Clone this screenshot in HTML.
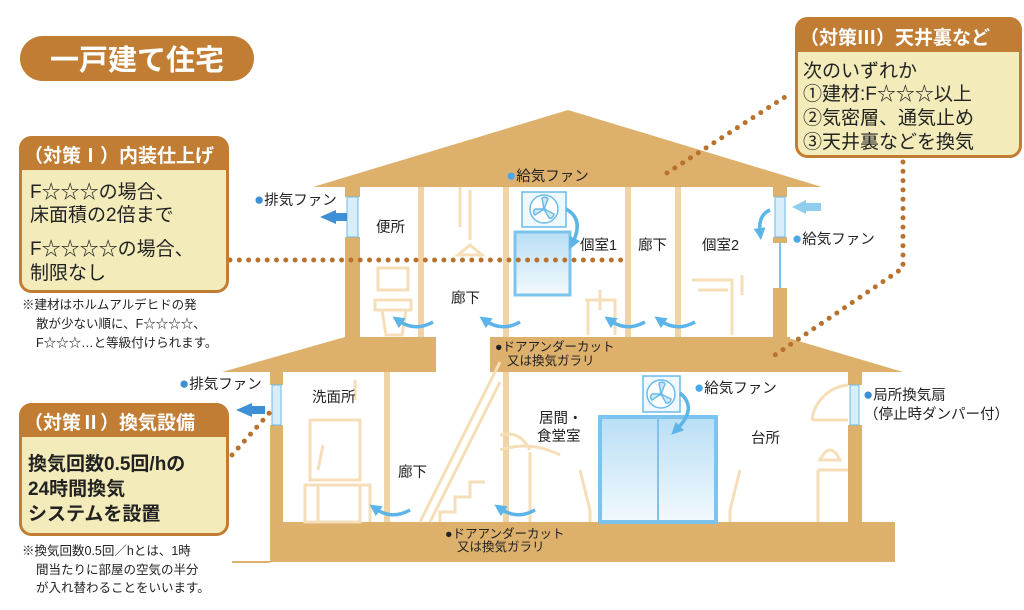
<!DOCTYPE html>
<html><head><meta charset="utf-8"><style>
body{margin:0;background:#fff}
svg{display:block}
text{font-family:"Liberation Sans","Noto Sans CJK JP",sans-serif;fill:#222}
.b{font-weight:bold}
</style></head><body>
<svg width="1024" height="610" viewBox="0 0 1024 610" xmlns="http://www.w3.org/2000/svg">
<defs>
<linearGradient id="gw" x1="0" y1="0" x2="0" y2="1"><stop offset="0" stop-color="#b9def5"/><stop offset="1" stop-color="#f2f9fd"/></linearGradient>
<marker id="ah" markerUnits="userSpaceOnUse" markerWidth="12" markerHeight="12" refX="4" refY="6" orient="auto"><path d="M0,0 L12,6 L0,12 Z" fill="#5cb4e8"/></marker>
</defs>
<g fill="#ddb06c">
<polygon points="568,110 313,187 822,187"/>
<rect x="345" y="187" width="15" height="10"/><rect x="345" y="237" width="15" height="100"/>
<rect x="773" y="187" width="14" height="10"/><rect x="773" y="237" width="14" height="6"/><rect x="773" y="288" width="14" height="50"/>
<rect x="345" y="337" width="91" height="35"/>
<rect x="490" y="337" width="300" height="35"/>
<polygon points="222,372 345,337 345,372"/>
<polygon points="785,337 903,372 785,372"/>
<rect x="270" y="372" width="13" height="13"/><rect x="270" y="425" width="13" height="137"/>
<rect x="848" y="372" width="14" height="13"/><rect x="848" y="425" width="14" height="137"/>
<rect x="270" y="522" width="625" height="40"/>
</g>
<line x1="232" y1="562" x2="270" y2="562" stroke="#ddb06c" stroke-width="2"/>
<g fill="#f0d4a6">
<rect x="418" y="187" width="6" height="150"/><rect x="503" y="187" width="6" height="150"/>
<rect x="625" y="187" width="6" height="150"/><rect x="675" y="187" width="6" height="150"/>
<rect x="384" y="372" width="6" height="150"/><rect x="503" y="372" width="6" height="150"/>
</g>
<g fill="none" stroke="#f6dfb8" stroke-width="3">
<path d="M378,268 h30 v22 h-30z M375,300 h36 v10 h-36z M382,310 l4,25 h16 l4,-25"/>
<path d="M460,187 v40 M470,190 v50 M458,255 l12,-10 l12,10z"/>
<path d="M600,290 v20 M585,300 h30 v35 M588,300 v35"/>
<path d="M692,280 h40 v55 M698,290 h30 M742,275 v20"/>
<path d="M318,470 l5,-25 m-5,40 v37 M330,485 h40 v37 M355,400 v-20"/>
<path d="M310,420 h50 v60 h-50z M305,485 h55 v37 h-55z"/>
<path d="M430,522 l70,-140 M420,522 l80,-160 M440,522 v-10 h15 v-15 h15 v-15 h15"/>
<path d="M530,522 v-70 M500,450 q30,-10 60,5 M530,450 q-10,-20 -30,-15"/>
<path d="M580,470 l10,40 v12 M740,470 l-10,40 v12 M620,477 h90 M635,477 l-5,45 M695,477 l5,45"/>
<path d="M812,420 a40,40 0 0 1 36,-35 M812,420 h36 M818,470 h30 M818,470 v52"/>
<path d="M820,460 q10,-20 20,0z"/>
</g>
<rect x="515" y="232" width="55" height="63" fill="url(#gw)" stroke="#7cc4ee" stroke-width="3"/>
<rect x="600" y="417" width="116" height="105" fill="url(#gw)" stroke="#7cc4ee" stroke-width="4"/>
<line x1="658" y1="417" x2="658" y2="522" stroke="#7cc4ee" stroke-width="2"/>
<g stroke="#6bbbe8" fill="#fff" stroke-width="1.5">
<rect x="522" y="192" width="44" height="35" fill="#eef8fd"/><circle cx="544" cy="209" r="14"/>
<path d="M544,209 l-2,-11 q4,-2 6,1z M544,209 l10,5 q-1,5 -5,4z M544,209 l-9,6 q-3,-3 0,-6z" fill="#cfe9f8"/>
<rect x="643" y="376" width="37" height="36" fill="#eef8fd"/><circle cx="661" cy="394" r="14"/>
<path d="M661,394 l-2,-11 q4,-2 6,1z M661,394 l10,5 q-1,5 -5,4z M661,394 l-9,6 q-3,-3 0,-6z" fill="#cfe9f8"/>
</g>
<g fill="#d8eefa" stroke="#6bbbe8" stroke-width="1">
<rect x="347" y="197" width="11" height="40"/><rect x="775" y="197" width="10" height="40"/>
<rect x="272" y="385" width="9" height="40"/><rect x="850" y="385" width="9" height="40"/>
</g>
<line x1="780" y1="243" x2="780" y2="288" stroke="#7cc4ee" stroke-width="2"/>
<g fill="none" stroke="#5cb4e8" stroke-width="3.5" marker-end="url(#ah)">
<path d="M433,322 q-18,10 -34,-1"/><path d="M520,322 q-18,10 -34,-1"/>
<path d="M645,322 q-18,10 -34,-1"/><path d="M695,322 q-18,10 -34,-1"/>
<path d="M410,510 q-18,10 -34,-1"/><path d="M535,510 q-18,10 -34,-1"/>
<path d="M566,209 q18,10 7,33"/><path d="M680,393 q18,15 -3,36"/>
<path d="M770,210 q-12,5 -10,22"/>
</g>
<g fill="#3d8fd6">
<polygon points="336,210 320,217 336,224"/><rect x="335" y="213" width="12" height="8"/>
<polygon points="252,403 236,410 252,417"/><rect x="251" y="406" width="14" height="8"/>
</g>
<g fill="#8fcdef"><polygon points="792,207 806,200 806,214"/><rect x="805" y="203" width="16" height="8"/></g>
<g fill="none" stroke="#b8722e" stroke-width="5" stroke-linecap="round" stroke-dasharray="0,9.3">
<path d="M230,260 H623"/>
<path d="M667,173 L785,97"/>
<path d="M903,162 V268 L775,355"/>
<path d="M232,455 L272,410"/>
</g>
<rect x="20" y="36" width="234" height="45" rx="22.5" fill="#c07d33"/>
<text x="137" y="70" text-anchor="middle" class="b" font-size="29" style="fill:#fff">一戸建て住宅</text>
<rect x="20.5" y="137.5" width="207" height="154" rx="11" fill="#f3ecba" stroke="#c07d33" stroke-width="3"/>
<path d="M20.5,170 V148.5 a11,11 0 0 1 11,-11 H216.5 a11,11 0 0 1 11,11 V170 Z" fill="#c07d33"/>
<text x="24" y="162" class="b" font-size="19" style="fill:#fff">（対策Ⅰ）内装仕上げ</text>
<g font-size="19"><text x="30" y="198">F☆☆☆の場合、</text><text x="30" y="221">床面積の2倍まで</text>
<text x="30" y="255">F☆☆☆☆の場合、</text><text x="30" y="279">制限なし</text></g>
<g font-size="12.5"><text x="22" y="309">※建材はホルムアルデヒドの発</text><text x="36" y="328">散が少ない順に、F☆☆☆☆、</text><text x="36" y="347">F☆☆☆…と等級付けられます。</text></g>
<rect x="20.5" y="404.5" width="207" height="130" rx="11" fill="#f3ecba" stroke="#c07d33" stroke-width="3"/>
<path d="M20.5,437 V415.5 a11,11 0 0 1 11,-11 H216.5 a11,11 0 0 1 11,11 V437 Z" fill="#c07d33"/>
<text x="24" y="429" class="b" font-size="19" style="fill:#fff">（対策Ⅱ）換気設備</text>
<g font-size="19" class="b"><text x="28" y="470">換気回数0.5回/hの</text><text x="28" y="495">24時間換気</text><text x="28" y="520">システムを設置</text></g>
<g font-size="12.5"><text x="22" y="555">※換気回数0.5回／hとは、1時</text><text x="36" y="574">間当たりに部屋の空気の半分</text><text x="36" y="592">が入れ替わることをいいます。</text></g>
<rect x="796.5" y="18.5" width="224" height="138" rx="11" fill="#f3ecba" stroke="#c07d33" stroke-width="3"/>
<path d="M796.5,52 V29.5 a11,11 0 0 1 11,-11 H1009.5 a11,11 0 0 1 11,11 V52 Z" fill="#c07d33"/>
<text x="800" y="44" class="b" font-size="19" style="fill:#fff">（対策Ⅲ）天井裏など</text>
<g font-size="19"><text x="803" y="77">次のいずれか</text><text x="803" y="100">①建材:F☆☆☆以上</text><text x="803" y="124">②気密層、通気止め</text><text x="803" y="148">③天井裏などを換気</text></g>
<g font-size="14.5">
<text x="254" y="205"><tspan style="fill:#3d8fd6" font-size="17">●</tspan>排気ファン</text>
<text x="506" y="181"><tspan style="fill:#4aa8e6" font-size="17">●</tspan>給気ファン</text>
<text x="792" y="244"><tspan style="fill:#4aa8e6" font-size="17">●</tspan>給気ファン</text>
<text x="179" y="389"><tspan style="fill:#3d8fd6" font-size="17">●</tspan>排気ファン</text>
<text x="694" y="393"><tspan style="fill:#4aa8e6" font-size="17">●</tspan>給気ファン</text>
<text x="863" y="400"><tspan style="fill:#3d8fd6" font-size="17">●</tspan>局所換気扇</text>
<text x="864" y="419">（停止時ダンパー付）</text>
<text x="376" y="232">便所</text><text x="451" y="303">廊下</text>
<text x="580" y="250">個室1</text><text x="638" y="250">廊下</text><text x="702" y="250">個室2</text>
<text x="312" y="402">洗面所</text><text x="398" y="477">廊下</text>
<text x="539" y="423">居間・</text><text x="537" y="441">食堂室</text><text x="751" y="443">台所</text>
</g>
<g font-size="12.5"><text x="495" y="351">●ドアアンダーカット</text><text x="507" y="365">又は換気ガラリ</text>
<text x="445" y="538">●ドアアンダーカット</text><text x="457" y="551">又は換気ガラリ</text></g>
</svg>
</body></html>
